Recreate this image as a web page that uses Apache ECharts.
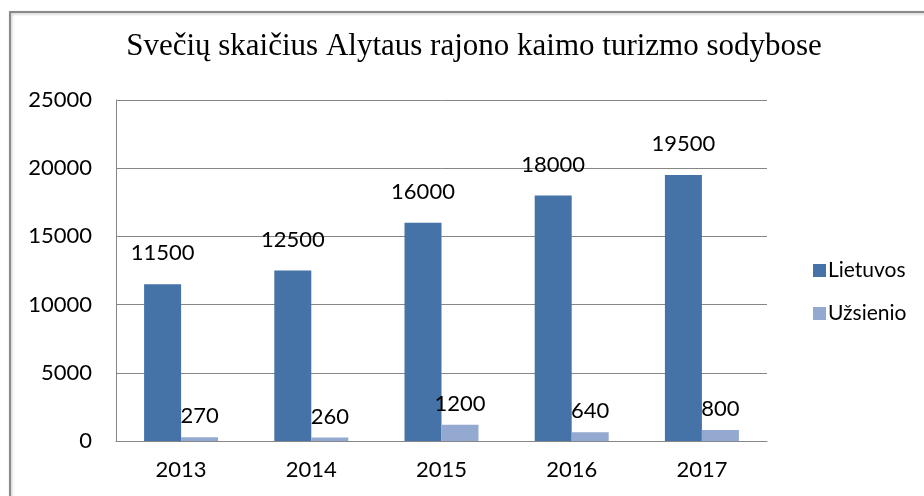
<!DOCTYPE html>
<html>
<head>
<meta charset="utf-8">
<script src="https://cdn.jsdelivr.net/npm/echarts@6/dist/echarts.min.js"></script>
<style>
  html, body { margin: 0; padding: 0; background: #fff; }
  #chart { width: 924px; height: 496px; }
</style>
</head>
<body>
<div id="chart"></div>
<script>
// duomenys
const years = ['2013', '2014', '2015', '2016', '2017'];
const lietuvos = [11500, 12500, 16000, 18000, 19500];
const uzsienio = [270, 260, 1200, 640, 800];

const chart = echarts.init(document.getElementById('chart'));
const sans = 'Lato';

chart.setOption({
    animation: false,
    backgroundColor: '#fff',
    title: {
        text: 'Svečių skaičius Alytaus rajono kaimo turizmo sodybose',
        left: 469,
        textAlign: 'center',
        top: 26,
        textStyle: { fontFamily: 'Liberation Serif', fontWeight: 'normal', fontSize: 31, color: '#000' }
    },
    // rėmelis aplink diagramą
    graphic: [{
        type: 'rect',
        shape: { x: 10, y: 12, width: 930, height: 500 },
        style: { fill: 'none', stroke: '#8a8a8a', lineWidth: 2, shadowBlur: 3, shadowColor: 'rgba(0,0,0,0.25)', shadowOffsetX: 1, shadowOffsetY: 1 },
        silent: true
    }],
    legend: {
        orient: 'vertical',
        left: 808,
        top: 255,
        itemWidth: 13,
        itemHeight: 13,
        itemGap: 22,
        icon: 'rect',
        textStyle: { fontFamily: sans, fontSize: 21, color: '#000', padding: [0, 0, 0, -3] },
        data: ['Lietuvos', 'Užsienio']
    },
    grid: { left: 116, right: 157, top: 100, bottom: 55, containLabel: false },
    xAxis: {
        type: 'category',
        data: years,
        axisLine: { lineStyle: { color: '#868686', width: 1 } },
        axisTick: { show: false },
        axisLabel: { fontFamily: sans, fontSize: 22, color: '#000', margin: 18 }
    },
    yAxis: {
        type: 'value',
        min: 0,
        max: 25000,
        interval: 5000,
        axisLine: { show: true, lineStyle: { color: '#868686', width: 1 } },
        axisTick: { show: false },
        splitLine: { lineStyle: { color: '#868686', width: 1 } },
        axisLabel: { fontFamily: sans, fontSize: 22, color: '#000', margin: 24, formatter: v => String(v) }
    },
    series: [{
        name: 'Lietuvos',
        type: 'bar',
        data: lietuvos,
        barWidth: 37,
        barGap: '0%',
        itemStyle: { color: '#4572A7' },
        label: { show: true, position: 'top', distance: 20, fontFamily: sans, fontSize: 22, color: '#000' }
    }, {
        name: 'Užsienio',
        type: 'bar',
        data: uzsienio,
        barWidth: 37,
        barGap: '0%',
        itemStyle: { color: '#93A9CF' },
        label: { show: true, position: 'top', distance: 10, fontFamily: sans, fontSize: 22, color: '#000' }
    }]
});
</script>
</body>
</html>
